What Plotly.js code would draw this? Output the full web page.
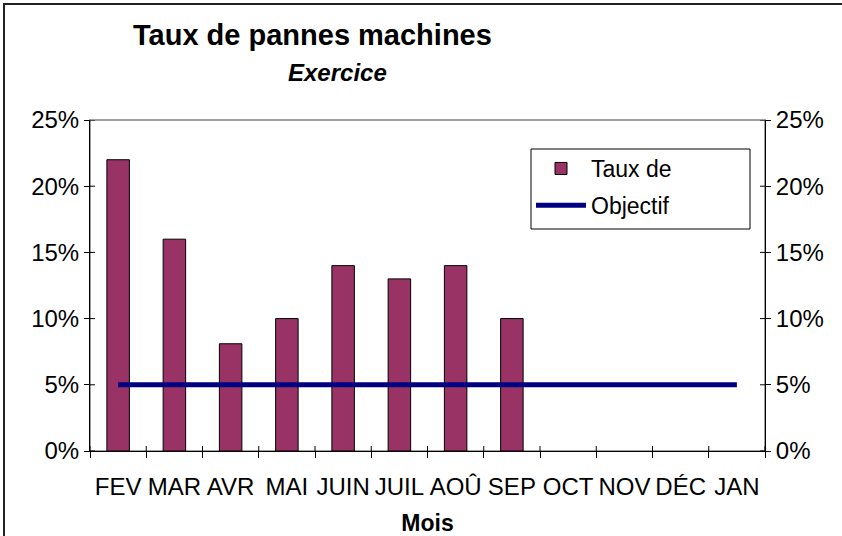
<!DOCTYPE html>
<html><head><meta charset="utf-8">
<script src="https://cdn.plot.ly/plotly-3.0.1.min.js"></script>
<style>body{margin:0;background:#fff}#c{width:842px;height:536px}</style>
</head><body><div id="c"></div>
<script>
const months = ["FEV","MAR","AVR","MAI","JUIN","JUIL","AOÛ","SEP","OCT","NOV","DÉC","JAN"];
const tauxPannes = [0.22,0.16,0.081,0.10,0.14,0.13,0.14,0.10,null,null,null,null];
const objectif = [0.05,0.05,0.05,0.05,0.05,0.05,0.05,0.05,0.05,0.05,0.05,0.05];
const yTicks = [0,0.05,0.10,0.15,0.20,0.25];

const W=842,H=536,L=90,R=77,T=120,B=85;
const pw=W-L-R, ph=H-T-B;
const F="Liberation Sans, Arial, sans-serif";
const px=x=>(x-L)/pw, py=y=>(H-B-y)/ph;

const shapes=[];
shapes.push({type:"rect",xref:"paper",yref:"paper",x0:px(4),x1:px(850),y0:py(540),y1:py(4),line:{color:"#222",width:2},layer:"below"});
shapes.push({type:"rect",xref:"paper",yref:"paper",x0:0,x1:1,y0:0,y1:1,line:{color:"#a0a0a0",width:2},layer:"below"});
// legend frame
shapes.push({type:"rect",xref:"paper",yref:"paper",x0:px(531),x1:px(750),y0:py(229),y1:py(149),line:{color:"#000",width:1},fillcolor:"#fff",layer:"above"});
yTicks.forEach(v=>{
  shapes.push({type:"line",xref:"paper",yref:"y",x0:0,x1:5/pw,y0:v,y1:v,line:{color:"#000",width:1}});
  shapes.push({type:"line",xref:"paper",yref:"y",x0:1-5/pw,x1:1,y0:v,y1:v,line:{color:"#000",width:1}});
});
for(let k=0;k<=months.length;k++){
  shapes.push({type:"line",xref:"x",yref:"paper",x0:k-0.5,x1:k-0.5,y0:0,y1:5/ph,line:{color:"#000",width:1}});
}

const data=[
 {type:"bar",x:months,y:tauxPannes,name:"Taux de",width:0.4,legendgroup:"a",
  marker:{color:"#993366",line:{color:"#000",width:1}},yaxis:"y"},
 {type:"scatter",mode:"lines",x:months,y:objectif,name:"Objectif",legendgroup:"b",
  line:{color:"#000080",width:5},yaxis:"y2"}
];
const yax={range:[0,0.25],tickvals:yTicks,tickformat:".0%",ticks:"outside",ticklen:5,tickcolor:"#000",
  showline:true,linecolor:"#000",linewidth:1,showgrid:false,zeroline:false,
  tickfont:{family:F,size:24,color:"#000"},fixedrange:true};
const layout={
 width:W,height:H,margin:{l:L,r:R,t:T,b:B},
 paper_bgcolor:"#fff",plot_bgcolor:"#fff",
 font:{family:F,color:"#000"},
 showlegend:true,
 legend:{x:px(531),y:py(147),xanchor:"left",yanchor:"top",
   borderwidth:0,bgcolor:"rgba(0,0,0,0)",traceorder:"grouped",
   font:{family:F,size:23,color:"#000"},tracegroupgap:4,itemwidth:50},
 xaxis:{type:"category",tickson:"boundaries",ticks:"outside",ticklen:6,tickcolor:"#000",
   showline:true,linecolor:"#000",linewidth:1,showgrid:false,
   tickfont:{family:F,size:24,color:"#000"},tickangle:0,ticklabelstandoff:14,
   range:[-0.5,11.5],
   title:{text:"<b>Mois</b>",font:{family:F,size:23,color:"#000"},standoff:16}},
 yaxis:Object.assign({side:"left"},yax),
 yaxis2:Object.assign({side:"right",overlaying:"y"},yax),
 shapes:shapes,
 annotations:[
  {xref:"paper",yref:"paper",x:px(131),y:py(35),xanchor:"left",yanchor:"middle",showarrow:false,
   text:"<b>Taux de pannes machines</b>",font:{family:F,size:29,color:"#000"}},
  {xref:"paper",yref:"paper",x:px(337),y:py(72),xanchor:"center",yanchor:"middle",showarrow:false,
   text:"<b><i>Exercice</i></b>",font:{family:F,size:24,color:"#000"}}
 ]
};
Plotly.newPlot("c",data,layout,{staticPlot:true});
</script></body></html>
